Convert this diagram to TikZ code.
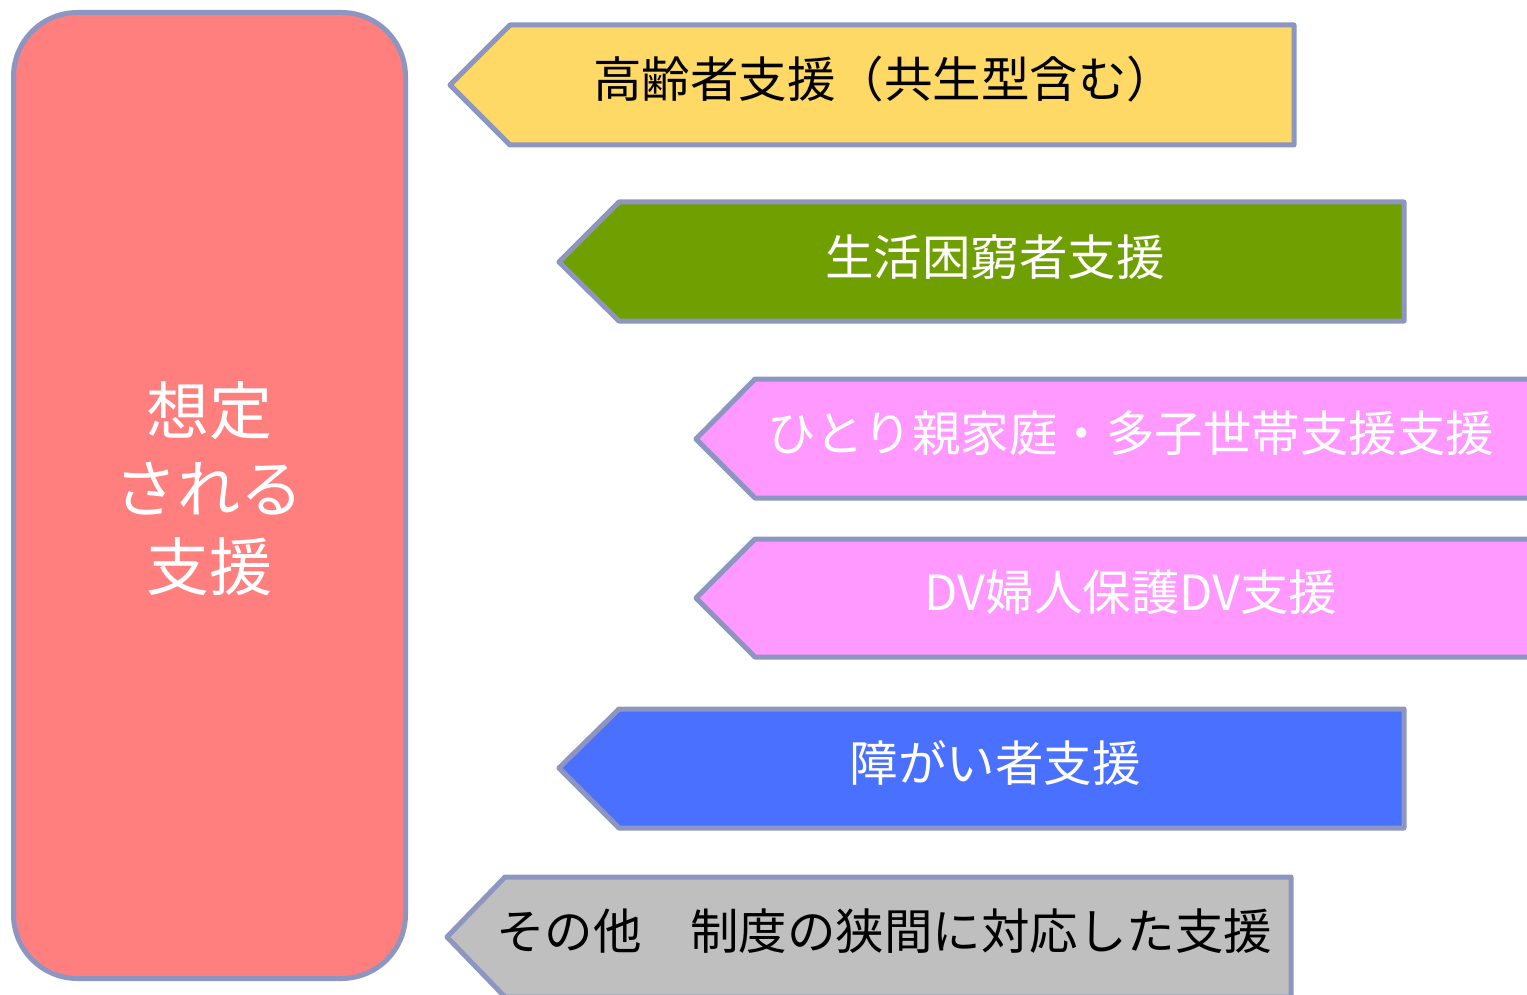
\documentclass[tikz,border=0pt]{standalone}
\usepackage{fontspec}
\newfontfamily\jp{Noto Sans CJK JP}
\definecolor{bordc}{HTML}{8C96C0}
\definecolor{salmon}{HTML}{FF7F7F}
\definecolor{yel}{HTML}{FFD966}
\definecolor{grn}{HTML}{6F9F00}
\definecolor{pnk}{HTML}{FF99FF}
\definecolor{blu}{HTML}{4A70FF}
\definecolor{gry}{HTML}{BFBFBF}
\tikzset{
  shapeline/.style={draw=bordc, line width=5pt, line join=round},
  lbl/.style={inner sep=0pt, font=\jp\fontsize{48.5}{56}\selectfont, anchor=center},
  biglbl/.style={inner sep=0pt, font=\jp\fontsize{63}{78}\selectfont, align=center, text=white},
}
\begin{document}
\begin{tikzpicture}[x=1pt,y=-1pt]
\useasboundingbox (0,0) rectangle (1527,995);
\clip (0,0) rectangle (1527,995);
% left rounded box
\draw[shapeline, fill=salmon, rounded corners=64pt] (13.5,12.5) rectangle (405.5,978.5);
\node[biglbl] (main) at (209,489) {想定\\される\\支援};
% arrows
\draw[shapeline, fill=yel] (450,85) -- (510,25) -- (1294,25) -- (1294,145) -- (510,145) -- cycle;
\node[lbl, text=black] (a1) at (884,79) {高齢者支援（共生型含む）};
\draw[shapeline, fill=grn] (559,262) -- (619,202) -- (1404,202) -- (1404,321) -- (619,321) -- cycle;
\node[lbl, text=white] (a2) at (995,257) {生活困窮者支援};
\draw[shapeline, fill=pnk] (696,439) -- (755,379) -- (1545,379) -- (1545,498) -- (755,498) -- cycle;
\node[lbl, text=white] (a3) at (1131,433) {ひとり親家庭・多子世帯支援支援};
\draw[shapeline, fill=pnk] (696,598) -- (755,539) -- (1545,539) -- (1545,657) -- (755,657) -- cycle;
\node[lbl, text=white] (a4) at (1131,592) {DV婦人保護DV支援};
\draw[shapeline, fill=blu] (559,768) -- (619,709) -- (1404,709) -- (1404,828) -- (619,828) -- cycle;
\node[lbl, text=white] (a5) at (995,763) {障がい者支援};
\draw[shapeline, fill=gry] (447,937) -- (505,877) -- (1291,877) -- (1291,997) -- (505,997) -- cycle;
\node[lbl, text=black] (a6) at (884,931) {その他　制度の狭間に対応した支援};
\end{tikzpicture}
\end{document}
